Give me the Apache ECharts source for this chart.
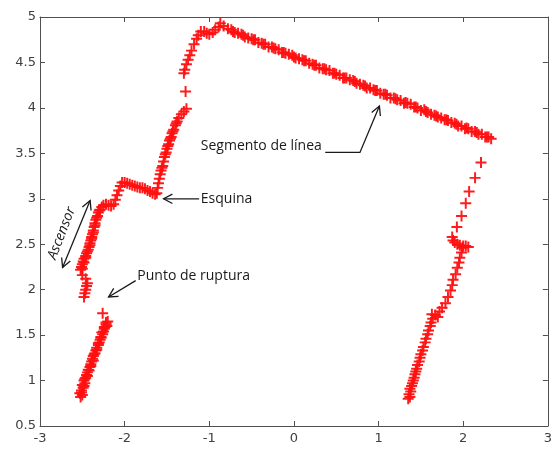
<!DOCTYPE html>
<html>
<head>
<meta charset="utf-8">
<script src="https://cdn.jsdelivr.net/npm/echarts@6/dist/echarts.min.js"></script>
<style>
html,body{margin:0;padding:0;background:#fff;}
#c{width:555px;height:449px;}
</style>
</head>
<body>
<div id="c"></div>
<script>
// ---- data (x, y) ----
const xTicks = [-3, -2, -1, 0, 1, 2, 3];
const yTicks = [0.5, 1, 1.5, 2, 2.5, 3, 3.5, 4, 4.5, 5];

const leftLower = [
  [-2.52,0.82],[-2.50,0.84],[-2.53,0.86],[-2.51,0.89],[-2.49,0.92],[-2.50,0.95],[-2.47,0.97],[-2.48,1.00],
  [-2.46,1.03],[-2.45,1.06],[-2.44,1.09],[-2.43,1.12],[-2.41,1.15],[-2.40,1.18],[-2.39,1.21],[-2.38,1.24],
  [-2.37,1.27],[-2.35,1.30],[-2.34,1.33],[-2.33,1.36],[-2.31,1.39],[-2.30,1.42],[-2.29,1.45],[-2.28,1.48],
  [-2.26,1.51],[-2.25,1.54],[-2.24,1.57],[-2.23,1.59],[-2.22,1.62],[-2.20,1.65],[-2.21,1.60],[-2.26,1.74],
  [-2.51,0.87],[-2.48,0.94],[-2.47,1.02],[-2.44,1.05],[-2.42,1.11],[-2.40,1.16],[-2.37,1.22],[-2.36,1.29],
  [-2.33,1.34],[-2.31,1.41],[-2.28,1.47],[-2.27,1.53],[-2.24,1.59],[-2.22,1.64]
];
const ascensor = [
  [-2.48,1.92],[-2.47,1.96],[-2.46,2.00],[-2.45,2.04],[-2.44,2.07],[-2.46,2.12],[-2.50,2.16],[-2.52,2.22],
  [-2.51,2.25],[-2.50,2.28],[-2.49,2.31],[-2.48,2.34],[-2.46,2.37],[-2.45,2.40],[-2.43,2.44],[-2.42,2.47],
  [-2.41,2.51],[-2.40,2.54],[-2.39,2.58],[-2.38,2.61],[-2.37,2.65],[-2.36,2.69],[-2.35,2.73],[-2.34,2.77],
  [-2.32,2.81],[-2.31,2.85],[-2.29,2.88],[-2.27,2.91],[-2.25,2.93],[-2.22,2.94],[-2.19,2.93],[-2.16,2.92],
  [-2.13,2.94],[-2.11,2.99],[-2.09,3.04],[-2.07,3.09],[-2.05,3.14],[-2.03,3.18],
  [-2.50,2.23],[-2.48,2.30],[-2.46,2.35],[-2.44,2.42],[-2.41,2.49],[-2.39,2.56],[-2.37,2.63],[-2.35,2.71],
  [-2.33,2.79],[-2.30,2.87]
];
const corner = [
  [-2.00,3.18],[-1.97,3.17],[-1.94,3.16],[-1.91,3.15],[-1.88,3.14],[-1.85,3.13],[-1.82,3.12],[-1.79,3.12],
  [-1.76,3.11],[-1.73,3.09],[-1.70,3.08],[-1.67,3.06],[-1.64,3.05],[-1.62,3.06]
];
const climb = [
  [-1.61,3.12],[-1.60,3.17],[-1.59,3.22],[-1.58,3.27],[-1.57,3.31],[-1.55,3.36],[-1.54,3.41],[-1.53,3.46],
  [-1.51,3.51],[-1.50,3.55],[-1.48,3.60],[-1.47,3.64],[-1.45,3.68],[-1.44,3.72],[-1.42,3.76],[-1.40,3.81],
  [-1.38,3.85],[-1.36,3.89],[-1.33,3.93],[-1.30,3.96],[-1.27,3.99],[-1.28,4.18],[-1.30,4.38],[-1.29,4.42],
  [-1.27,4.48],[-1.25,4.53],[-1.23,4.58],[-1.21,4.63],[-1.18,4.70],[-1.15,4.76],[-1.13,4.80],[-1.10,4.84],
  [-1.06,4.84],[-1.03,4.82],[-1.00,4.81],[-0.96,4.83],[-0.93,4.86],[-0.89,4.89],[-0.87,4.93],[-0.83,4.90],
  [-1.56,3.34],[-1.52,3.49],[-1.49,3.58],[-1.46,3.66],[-1.43,3.74],[-1.39,3.83]
];
const lineSegment = [
  [-0.78,4.87],[-0.74,4.86],[-0.70,4.83],[-0.66,4.82],[-0.62,4.81],[-0.58,4.78],[-0.54,4.77],[-0.50,4.76],
  [-0.46,4.75],[-0.42,4.72],[-0.38,4.71],[-0.34,4.70],[-0.30,4.67],[-0.26,4.67],[-0.22,4.65],[-0.18,4.64],
  [-0.14,4.61],[-0.10,4.60],[-0.06,4.59],[-0.02,4.58],[0.02,4.55],[0.06,4.54],[0.10,4.53],[0.14,4.52],
  [0.18,4.49],[0.22,4.48],[0.26,4.47],[0.30,4.44],[0.34,4.43],[0.38,4.42],[0.42,4.41],[0.46,4.38],
  [0.50,4.37],[0.54,4.36],[0.58,4.33],[0.62,4.33],[0.66,4.31],[0.70,4.30],[0.74,4.27],[0.78,4.26],
  [0.82,4.25],[0.86,4.22],[0.90,4.22],[0.94,4.20],[0.98,4.19],[1.02,4.16],[1.06,4.15],[1.10,4.14],
  [1.14,4.11],[1.18,4.11],[1.22,4.09],[1.26,4.08],[1.30,4.05],[1.34,4.05],[1.38,4.04],[1.42,4.01],
  [1.46,4.00],[1.50,3.97],[1.54,3.98],[1.58,3.95],[1.62,3.93],[1.66,3.92],[1.70,3.90],[1.74,3.89],
  [1.78,3.87],[1.82,3.86],[1.86,3.84],[1.90,3.83],[1.94,3.80],[1.98,3.80],[2.02,3.77],[2.06,3.77],
  [2.10,3.74],[2.14,3.74],[2.18,3.71],[2.22,3.71],[2.26,3.68],[2.30,3.68],[2.33,3.66],
  [-0.72,4.84],[-0.60,4.80],[-0.48,4.75],[-0.36,4.70],[-0.24,4.66],[-0.12,4.61],[0.00,4.56],[0.12,4.52],
  [0.24,4.47],[0.36,4.43],[0.48,4.38],[0.60,4.33],[0.72,4.29],[0.84,4.24],[0.96,4.19],[1.08,4.15],
  [1.20,4.10],[1.32,4.06],[1.44,4.01],[1.56,3.96],[1.68,3.91],[1.80,3.87],[1.92,3.82],[2.04,3.78],
  [2.16,3.73],[2.28,3.68]
];
const rightSegment = [
  [1.35,0.80],[1.37,0.82],[1.36,0.85],[1.38,0.88],[1.37,0.91],[1.39,0.94],[1.40,0.97],[1.41,1.00],
  [1.42,1.03],[1.43,1.07],[1.44,1.10],[1.45,1.13],[1.46,1.17],[1.48,1.21],[1.49,1.25],[1.50,1.29],
  [1.52,1.33],[1.53,1.37],[1.55,1.42],[1.56,1.46],[1.58,1.51],[1.59,1.55],[1.61,1.60],[1.62,1.64],
  [1.64,1.68],[1.63,1.73],[1.67,1.72],[1.70,1.70],[1.72,1.76],[1.75,1.80],[1.79,1.85],[1.82,1.92],
  [1.85,1.99],[1.87,2.05],[1.88,2.11],[1.91,2.17],[1.93,2.24],[1.95,2.30],[1.96,2.35],[1.98,2.41],
  [1.99,2.46],[2.06,2.47],[2.03,2.48],[2.00,2.48],[1.96,2.49],[1.93,2.50],[1.90,2.52],[1.88,2.54],
  [1.87,2.58],[1.925,2.69],[1.98,2.81],[2.03,2.95],[2.07,3.08],[2.14,3.23],[2.21,3.40]
];

// annotations (data coordinates)
const annotations = [
  { text: 'Segmento de línea', at: [-1.10, 3.58] },
  { text: 'Esquina', at: [-1.10, 3.00] },
  { text: 'Punto de ruptura', at: [-1.85, 2.15] }
];
const ascensorLabel = { text: 'Ascensor', at: [-2.745, 2.62], angle: 69 };
const arrows = [
  { path: [[0.37, 3.51], [0.78, 3.51], [1.01, 4.02]], heads: 'end' },
  { path: [[-1.12, 3.00], [-1.54, 3.00]], heads: 'end' },
  { path: [[-1.87, 2.10], [-2.19, 1.92]], heads: 'end' },
  { path: [[-2.733, 2.245], [-2.408, 2.98]], heads: 'both' }
];

const allPoints = [].concat(leftLower, ascensor, corner, climb, lineSegment, rightSegment);

const plusSymbol = 'path://M4.1,0H5.9V4.1H10V5.9H5.9V10H4.1V5.9H0V4.1H4.1Z';
const frameColor = '#505050';
const labelStyle = { color: '#404040', fontFamily: 'DejaVu Sans', fontSize: 13 };

function axisCommon(min, max, interval) {
  return {
    type: 'value', min: min, max: max, interval: interval,
    axisLine: { show: true, onZero: false, lineStyle: { color: frameColor, width: 1 } },
    axisTick: { show: true, inside: true, length: 5, lineStyle: { color: frameColor } },
    splitLine: { show: false }
  };
}

const option = {
  animation: false,
  backgroundColor: '#fff',
  grid: { left: 40, right: 6, top: 17, bottom: 23, containLabel: false },
  xAxis: [
    Object.assign(axisCommon(xTicks[0], xTicks[xTicks.length - 1], 1), {
      position: 'bottom',
      axisLabel: Object.assign({ margin: 6 }, labelStyle)
    }),
    Object.assign(axisCommon(xTicks[0], xTicks[xTicks.length - 1], 1), {
      position: 'top', axisLabel: { show: false }
    })
  ],
  yAxis: [
    Object.assign(axisCommon(yTicks[0], yTicks[yTicks.length - 1], 0.5), {
      position: 'left',
      axisLabel: Object.assign({ margin: 4 }, labelStyle)
    }),
    Object.assign(axisCommon(yTicks[0], yTicks[yTicks.length - 1], 0.5), {
      position: 'right', axisLabel: { show: false }
    })
  ],
  series: [{
    type: 'scatter',
    data: allPoints,
    symbol: plusSymbol,
    symbolSize: 11,
    itemStyle: { color: '#ff1010', opacity: 0.95 },
    silent: true
  }]
};

const chart = echarts.init(document.getElementById('c'));
chart.setOption(option);

function px(p) { return chart.convertToPixel({ xAxisIndex: 0, yAxisIndex: 0 }, p); }

function arrowHead(tip, from) {
  const dx = from[0] - tip[0], dy = from[1] - tip[1];
  const len = Math.sqrt(dx * dx + dy * dy);
  const ux = dx / len, uy = dy / len;
  const L = 10, a = 28 * Math.PI / 180;
  const c = Math.cos(a), s = Math.sin(a);
  const p1 = [tip[0] + L * (ux * c - uy * s), tip[1] + L * (ux * s + uy * c)];
  const p2 = [tip[0] + L * (ux * c + uy * s), tip[1] + L * (-ux * s + uy * c)];
  return { type: 'polyline', shape: { points: [p1, tip, p2] }, style: { stroke: '#1a1a1a', lineWidth: 1.3, fill: null } };
}

const graphics = [];
annotations.forEach(function (a) {
  const p = px(a.at);
  graphics.push({
    type: 'text', x: p[0], y: p[1],
    style: { text: a.text, font: '14px "Open Sans"', fill: '#1a1a1a', verticalAlign: 'middle', align: 'left' }
  });
});
(function () {
  const p = px(ascensorLabel.at);
  graphics.push({
    type: 'text', x: p[0], y: p[1], rotation: ascensorLabel.angle * Math.PI / 180,
    style: { text: ascensorLabel.text, font: 'italic 14px "Open Sans"', fill: '#1a1a1a', verticalAlign: 'middle', align: 'center' }
  });
})();
arrows.forEach(function (a) {
  const pts = a.path.map(px);
  graphics.push({ type: 'polyline', shape: { points: pts }, style: { stroke: '#1a1a1a', lineWidth: 1.3, fill: null } });
  const n = pts.length;
  graphics.push(arrowHead(pts[n - 1], pts[n - 2]));
  if (a.heads === 'both') graphics.push(arrowHead(pts[0], pts[1]));
});
chart.setOption({ graphic: graphics });
</script>
</body>
</html>
